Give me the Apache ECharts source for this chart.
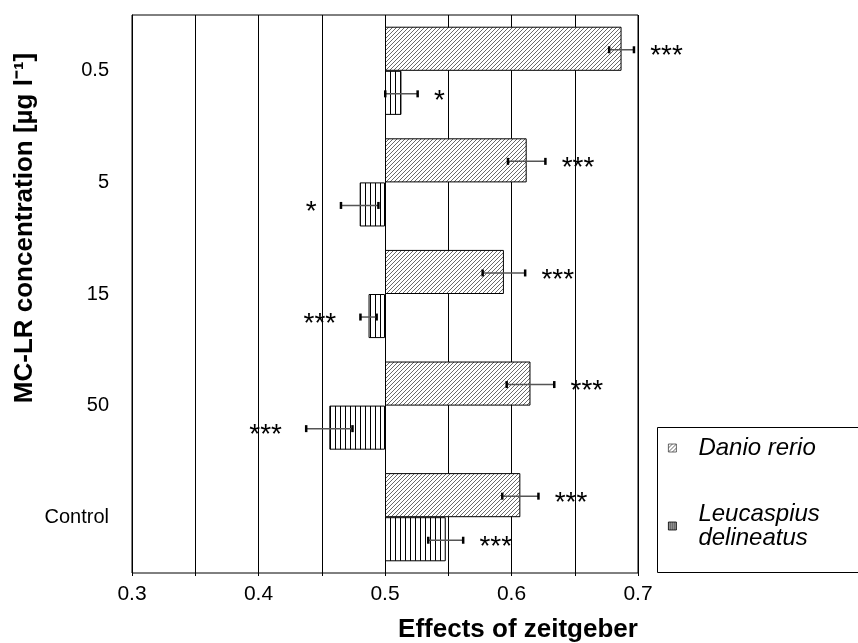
<!DOCTYPE html>
<html>
<head>
<meta charset="utf-8">
<script src="https://cdn.jsdelivr.net/npm/echarts@6/dist/echarts.min.js"></script>
<style>html,body{margin:0;padding:0;background:#fff}#c{width:858px;height:643px}</style>
</head>
<body>
<div id="c"></div>
<script>
// ---- data ----
const categories = ['0.5', '5', '15', '50', 'Control'];
const danioMean = [0.687, 0.612, 0.594, 0.615, 0.607];
const danioErr  = [0.010, 0.015, 0.017, 0.019, 0.0145];
const danioSig  = ['***', '***', '***', '***', '***'];
const leucMean  = [0.513, 0.480, 0.487, 0.456, 0.548];
const leucErr   = [0.013, 0.015, 0.0066, 0.0185, 0.014];
const leucSig   = ['*', '*', '***', '***', '***'];
const xTicks = [0.3, 0.35, 0.4, 0.45, 0.5, 0.55, 0.6, 0.65, 0.7];
const baseline = 0.5;
const seriesNames = ['Danio rerio', 'Leucaspius delineatus'];

// ---- patterns ----
function diagPattern() {
  const c = document.createElement('canvas'); c.width = 4; c.height = 4;
  const g = c.getContext('2d');
  g.fillStyle = '#fff'; g.fillRect(0, 0, 4, 4);
  g.strokeStyle = '#6a6a6a'; g.lineWidth = 1;
  g.beginPath();
  g.moveTo(0, 4); g.lineTo(4, 0);
  g.moveTo(-1, 1); g.lineTo(1, -1);
  g.moveTo(3, 5); g.lineTo(5, 3);
  g.stroke();
  return c;
}
function vertPattern() {
  const c = document.createElement('canvas'); c.width = 5; c.height = 2;
  const g = c.getContext('2d');
  g.fillStyle = '#fff'; g.fillRect(0, 0, 5, 2);
  g.fillStyle = '#000'; g.fillRect(0, 0, 1, 2);
  return c;
}
function vertPatternSmall() {
  const c = document.createElement('canvas'); c.width = 2; c.height = 2;
  const g = c.getContext('2d');
  g.fillStyle = '#fff'; g.fillRect(0, 0, 2, 2);
  g.fillStyle = '#000'; g.fillRect(0, 0, 1, 2);
  return c;
}
const diagFill = { image: diagPattern(), repeat: 'repeat' };
const vertFill = { image: vertPattern(), repeat: 'repeat' };

const FONT = 'Liberation Sans, Arial, sans-serif';
const CAT_GAP = 0.21;

const danioBase = danioMean.map(v => Math.min(v, baseline));
const danioDelta = danioMean.map(v => Math.abs(v - baseline));
const leucBase = leucMean.map(v => Math.min(v, baseline));
const leucDelta = leucMean.map(v => Math.abs(v - baseline));

function errSeries(means, errs, sigs, slot) {
  return {
    type: 'custom',
    silent: true,
    z: 5,
    data: means.map((m, i) => [i, m, errs[i]]),
    encode: { x: 1, y: 0 },
    renderItem: function (params, api) {
      const idx = api.value(0), m = api.value(1), e = api.value(2);
      const band = api.size([0, 1])[1];
      const bw = band * (1 - CAT_GAP) / 2;
      const c = api.coord([m, idx]);
      const y = c[1] + (slot === 0 ? -bw / 2 : bw / 2) + 1;
      const x1 = api.coord([m - e, idx])[0];
      const x2 = api.coord([m + e, idx])[0];
      const right = m >= baseline;
      const sig = sigs[params.dataIndex];
      return {
        type: 'group',
        children: [
          { type: 'line', shape: { x1: x1, y1: y, x2: x2, y2: y }, style: { stroke: '#555', lineWidth: 1.5 } },
          { type: 'rect', shape: { x: x1 - 1, y: y - 3.5, width: 2.5, height: 7 }, style: { fill: '#000' } },
          { type: 'rect', shape: { x: x2 - 1.5, y: y - 3.5, width: 2.5, height: 7 }, style: { fill: '#000' } },
          { type: 'text', x: right ? x2 + 16 : x1 - 24, y: y + 7,
            style: { text: sig, font: '28px ' + FONT, fill: '#000', align: right ? 'left' : 'right', verticalAlign: 'middle' } }
        ]
      };
    }
  };
}

const chart = echarts.init(document.getElementById('c'), null, { renderer: 'canvas' });
chart.setOption({
  animation: false,
  backgroundColor: '#fff',
  grid: { left: 132, right: 220, top: 15, bottom: 70, show: true, borderColor: '#000', borderWidth: 1, backgroundColor: 'transparent' },
  xAxis: {
    type: 'value', min: xTicks[0], max: xTicks[xTicks.length - 1], interval: 0.05,
    axisLine: { lineStyle: { color: '#000', width: 1 } },
    axisTick: { show: true, length: 3, lineStyle: { color: '#000' } },
    splitLine: { show: true, lineStyle: { color: '#000', width: 1 } },
    axisLabel: {
      color: '#000', fontSize: 21, fontFamily: FONT, margin: 11,
      formatter: v => (Math.round(v * 100) % 10 === 0 ? String(Math.round(v * 10) / 10) : '')
    }
  },
  yAxis: {
    type: 'category', inverse: true, data: categories,
    axisLine: { show: true, lineStyle: { color: '#000' } },
    axisTick: { show: false },
    axisLabel: { color: '#000', fontSize: 20, fontFamily: FONT, margin: 23 }
  },
  legend: {
    data: [
      { name: seriesNames[0], itemStyle: { color: diagFill, borderColor: '#444', borderWidth: 0.8 } },
      { name: seriesNames[1], itemStyle: { color: { image: vertPatternSmall(), repeat: 'repeat' }, borderColor: '#000', borderWidth: 0.8 } }
    ],
    orient: 'vertical', left: 668, top: 436,
    itemWidth: 8, itemHeight: 8, itemGap: 42, padding: 0,
    icon: 'rect',
    formatter: n => n === 'Leucaspius delineatus' ? 'Leucaspius\ndelineatus' : n,
    textStyle: { fontSize: 24, fontStyle: 'italic', fontFamily: FONT, color: '#000', lineHeight: 24, padding: [0, 0, 0, 17] },
    selectedMode: false
  },
  graphic: [
    { type: 'rect', shape: { x: 657.5, y: 427.5, width: 220, height: 145 }, style: { fill: 'none', stroke: '#000', lineWidth: 1 }, z: 0 },
    { type: 'text', x: 518, y: 630, style: { text: 'Effects of zeitgeber', font: 'bold 26px ' + FONT, fill: '#000', align: 'center', verticalAlign: 'middle' } },
    { type: 'text', x: 25, y: 228, rotation: Math.PI / 2,
      style: { text: 'MC-LR concentration [µg l⁻¹]', font: 'bold 26px ' + FONT, fill: '#000', align: 'center', verticalAlign: 'middle' } }
  ],
  series: [
    { name: 'dbase', type: 'bar', stack: 'd', data: danioBase, silent: true, itemStyle: { color: 'transparent', borderWidth: 0 }, barCategoryGap: (CAT_GAP * 100) + '%', barGap: '0%' },
    { name: seriesNames[0], type: 'bar', stack: 'd', data: danioDelta, itemStyle: { color: diagFill, borderColor: '#000', borderWidth: 1 } },
    { name: 'lbase', type: 'bar', stack: 'l', data: leucBase, silent: true, itemStyle: { color: 'transparent', borderWidth: 0 } },
    { name: seriesNames[1], type: 'bar', stack: 'l', data: leucDelta, itemStyle: { color: vertFill, borderColor: '#000', borderWidth: 1 } },
    errSeries(danioMean, danioErr, danioSig, 0),
    errSeries(leucMean, leucErr, leucSig, 1)
  ]
});
</script>
</body>
</html>
